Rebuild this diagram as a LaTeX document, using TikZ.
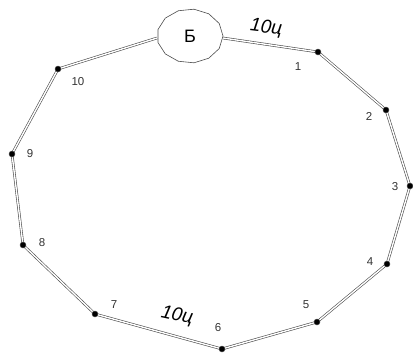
\documentclass[tikz,border=0pt]{standalone}
\usepackage{fontspec}
\setmainfont{Liberation Sans}
\usetikzlibrary{backgrounds}
\begin{document}
\begin{tikzpicture}[x=1pt,y=-1pt,
  wire/.style={draw=gray!60!black,double=white,double distance=1.4pt,line width=0.6pt},
  pt/.style={circle,fill=black,draw=gray!60!black,inner sep=0pt,minimum size=6pt},
  num/.style={font=\fontsize{11.5}{13}\selectfont,text=black!80},
  dist/.style={font=\fontsize{19}{21}\selectfont\itshape}]
\useasboundingbox (0,0) rectangle (413,360);
% B node drawn as a faceted oval
\draw[gray!60!black,line width=0.6pt] plot[samples=14,domain=0:360] ({190+33*cos(\x)},{36+27*sin(\x)}) -- cycle;
\node[font=\fontsize{18}{20}\selectfont] (B) at (190,36) {Б};
\coordinate (Bl) at (157,38);
\coordinate (Br) at (223,38);
\node[pt] (p1) at (318,52) {};
\node[pt] (p2) at (386,110) {};
\node[pt] (p3) at (410,186) {};
\node[pt] (p4) at (387,264) {};
\node[pt] (p5) at (317,322) {};
\node[pt] (p6) at (222,349) {};
\node[pt] (p7) at (95,314) {};
\node[pt] (p8) at (23,245) {};
\node[pt] (p9) at (12,154) {};
\node[pt] (p10) at (58,69) {};
\begin{scope}[on background layer]
\draw[wire] (Br) -- (p1.center) -- (p2.center) -- (p3.center) -- (p4.center) -- (p5.center) -- (p6.center) -- (p7.center) -- (p8.center) -- (p9.center) -- (p10.center) -- (Bl);
\end{scope}
\node[num] (l1) at (298,67) {1};
\node[num] (l2) at (369,116) {2};
\node[num] (l3) at (395,187) {3};
\node[num] (l4) at (370,262) {4};
\node[num] (l5) at (306,305) {5};
\node[num] (l6) at (218,328) {6};
\node[num] (l7) at (114,305) {7};
\node[num] (l8) at (42,243) {8};
\node[num] (l9) at (30,154) {9};
\node[num] (l10) at (78,82) {10};
\node[dist,rotate=-7] (d1) at (266,28) {10ц};
\node[dist,rotate=-12] (d2) at (177,316) {10ц};
\end{tikzpicture}
\end{document}
